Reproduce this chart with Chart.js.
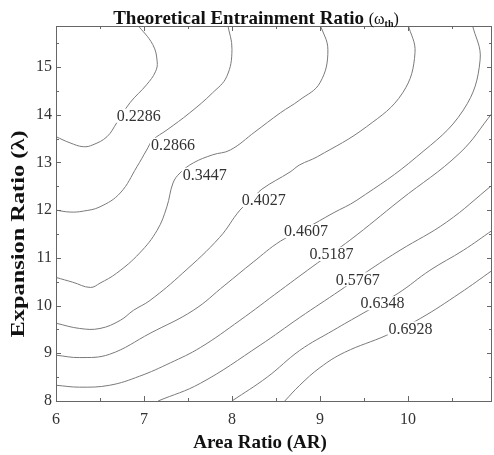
<!DOCTYPE html>
<html lang="en">
<head>
<meta charset="UTF-8">
<title>Theoretical Entrainment Ratio</title>
<script src="https://cdn.jsdelivr.net/npm/chart.js"></script>
<style>
  html, body { margin: 0; padding: 0; background: #fff; }
</style>
</head>
<body>
<canvas id="contourChart" width="494" height="455"></canvas>

<script>
// contour levels of the entrainment ratio
const levels = [0.2286, 0.2866, 0.3447, 0.4027, 0.4607, 0.5187, 0.5767, 0.6348, 0.6928];

// each contour as [area ratio, expansion ratio] pairs
const c2286 = [[6.00,13.54],[6.16,13.41],[6.31,13.33],[6.42,13.37],[6.58,13.54],[6.69,13.83],
               [6.84,14.25],[7.03,14.63],[7.13,14.90],[7.15,15.11],[7.10,15.47],[6.92,15.90]];
const c2866 = [[6.00,12.00],[6.16,11.96],[6.31,11.98],[6.50,12.07],[6.73,12.36],[6.92,12.91],
               [7.03,13.26],[7.10,13.47],[7.26,13.68],[7.52,14.04],[7.78,14.46],[7.94,14.80],
               [8.00,15.37],[7.95,15.90]];
const c3447 = [[6.00,10.59],[6.19,10.49],[6.39,10.38],[6.50,10.47],[6.69,10.68],[6.95,11.10],
               [7.15,11.58],[7.26,12.07],[7.33,12.57],[7.41,12.78],[7.56,12.99],[7.78,13.16],
               [7.98,13.26],[8.26,13.64],[8.55,14.04],[8.77,14.31],[9.00,14.67],[9.09,15.36],
               [9.00,15.90]];
const c4027 = [[6.00,9.63],[6.27,9.52],[6.50,9.52],[6.73,9.69],[6.88,9.90],[7.07,10.11],
               [7.44,10.68],[7.86,11.43],[8.09,12.00],[8.23,12.23],[8.34,12.44],[8.66,12.80],
               [8.77,12.95],[8.97,13.12],[9.53,13.75],[9.94,14.46],[10.08,15.30],[10.00,15.90]];
const c4607 = [[6.00,8.96],[6.27,8.91],[6.61,8.98],[7.07,9.42],[7.56,9.90],[7.92,10.43],
               [8.24,10.91],[8.55,11.35],[8.84,11.62],[9.15,11.94],[9.42,12.21],[10.10,13.12],
               [10.63,14.10],[10.82,15.15],[10.73,15.90]];
const c5187 = [[6.00,8.33],[6.27,8.29],[6.61,8.33],[6.95,8.52],[7.30,8.80],[7.64,9.12],
               [8.09,9.69],[8.55,10.32],[8.97,10.89],[9.34,11.37],[9.91,12.21],[10.59,13.20],
               [10.96,14.04]];
const c5767 = [[7.16,8.00],[7.64,8.37],[8.32,9.17],[8.77,9.75],[9.23,10.32],[9.59,10.78],
               [9.91,11.16],[10.44,11.75],[10.96,12.53]];
const c6348 = [[8.00,8.00],[8.40,8.50],[8.77,9.06],[9.15,9.48],[9.49,9.84],[9.89,10.26],
               [10.25,10.74],[10.63,11.16],[10.96,11.58]];
const c6928 = [[8.60,8.00],[8.77,8.33],[9.00,8.70],[9.28,9.02],[9.76,9.38],[10.14,9.73],
               [10.59,10.26],[10.96,10.74]];

const contours = [c2286, c2866, c3447, c4027, c4607, c5187, c5767, c6348, c6928];

// where each level's value is written, in (area ratio, expansion ratio)
const labelSpots = [[6.94,13.98],[7.33,13.37],[7.69,12.74],[8.36,12.21],[8.84,11.56],
                    [9.13,11.08],[9.43,10.55],[9.71,10.05],[10.03,9.52]];

const xTicks = [6, 7, 8, 9, 10];
const yTicks = [8, 9, 10, 11, 12, 13, 14, 15];
const xRange = [6, 10.955];
const yRange = [8, 15.86];

const serif = '"Liberation Serif", "DejaVu Serif", serif';

// frame, inward ticks, contour labels and the titles
const framePlugin = {
    id: 'framePlugin',
    afterDraw(chart) {
        const ctx = chart.ctx;
        const a = chart.chartArea;
        const xs = chart.scales.x;
        const ys = chart.scales.y;

        // contour value labels on white patches
        ctx.save();
        ctx.font = '16px ' + serif;
        ctx.textAlign = 'center';
        ctx.textBaseline = 'middle';
        levels.forEach((lv, i) => {
            const px = xs.getPixelForValue(labelSpots[i][0]);
            const py = ys.getPixelForValue(labelSpots[i][1]);
            const txt = lv.toFixed(4);
            const w = ctx.measureText(txt).width;
            ctx.fillStyle = '#fff';
            ctx.fillRect(px - w / 2 - 1, py - 7, w + 2, 14);
            ctx.fillStyle = '#333';
            ctx.fillText(txt, px, py + 1);
        });
        ctx.restore();

        // frame
        ctx.save();
        ctx.strokeStyle = '#666';
        ctx.lineWidth = 1;
        ctx.strokeRect(Math.round(a.left) + 0.5, Math.round(a.top) + 0.5,
                       Math.round(a.right - a.left) - 1, Math.round(a.bottom - a.top));

        // ticks pointing into the plot on all four sides
        ctx.beginPath();
        for (let v = xRange[0]; v <= xRange[1]; v += 0.5) {
            const px = Math.round(xs.getPixelForValue(v)) + 0.5;
            const len = Number.isInteger(v) ? 5 : 3;
            ctx.moveTo(px, a.bottom); ctx.lineTo(px, a.bottom - len);
            ctx.moveTo(px, a.top); ctx.lineTo(px, a.top + len);
        }
        for (let v = yRange[0]; v <= yRange[1]; v += 0.5) {
            const py = Math.round(ys.getPixelForValue(v)) + 0.5;
            const len = Number.isInteger(v) ? 5 : 3;
            ctx.moveTo(a.left, py); ctx.lineTo(a.left + len, py);
            ctx.moveTo(a.right, py); ctx.lineTo(a.right - len, py);
        }
        ctx.stroke();

        // tick labels
        ctx.fillStyle = '#333';
        ctx.font = '16px ' + serif;
        ctx.textAlign = 'center';
        ctx.textBaseline = 'alphabetic';
        xTicks.forEach(v => ctx.fillText(String(v), xs.getPixelForValue(v), a.bottom + 23));
        ctx.textAlign = 'right';
        ctx.textBaseline = 'middle';
        yTicks.forEach(v => ctx.fillText(String(v), a.left - 4, ys.getPixelForValue(v)));

        // axis titles
        ctx.fillStyle = '#111';
        ctx.font = 'bold 19px ' + serif;
        ctx.textAlign = 'center';
        ctx.textBaseline = 'alphabetic';
        ctx.fillText('Area Ratio (AR)', 260, 448);

        // the vertical title runs long, so it is stretched along its length
        const yTitle = 'Expansion Ratio (\u03bb)';
        const stretch = 207 / ctx.measureText(yTitle).width;
        ctx.save();
        ctx.translate(24, 234);
        ctx.rotate(-Math.PI / 2);
        ctx.scale(stretch, 1);
        ctx.fillText(yTitle, 0, 0);
        ctx.restore();

        // plot title with the omega symbol set lighter
        const main = 'Theoretical Entrainment Ratio ';
        ctx.font = 'bold 19px ' + serif;
        const wMain = ctx.measureText(main).width;
        ctx.font = '16px ' + serif;
        const wOpen = ctx.measureText('(\u03c9').width;
        ctx.font = 'bold 10px ' + serif;
        const wSub = ctx.measureText('th').width;
        ctx.font = '16px ' + serif;
        const wClose = ctx.measureText(')').width;
        let tx = 256 - (wMain + wOpen + wSub + wClose) / 2;
        const ty = 24;
        ctx.textAlign = 'left';
        ctx.font = 'bold 19px ' + serif;
        ctx.fillText(main, tx, ty); tx += wMain;
        ctx.font = '16px ' + serif;
        ctx.fillText('(\u03c9', tx, ty); tx += wOpen;
        ctx.font = 'bold 10px ' + serif;
        ctx.fillText('th', tx, ty + 3); tx += wSub;
        ctx.font = '16px ' + serif;
        ctx.fillText(')', tx, ty);
        ctx.restore();
    }
};

const datasets = contours.map((pts, i) => ({
    label: String(levels[i]),
    data: pts.map(p => ({ x: p[0], y: p[1] })),
    showLine: true,
    borderColor: '#7a7a7a',
    borderWidth: 1,
    pointRadius: 0,
    tension: 0.4,
    fill: false
}));

new Chart(document.getElementById('contourChart'), {
    type: 'scatter',
    data: { datasets: datasets },
    options: {
        responsive: false,
        animation: false,
        devicePixelRatio: 1,
        layout: { padding: { left: 56, top: 26, right: 2, bottom: 54 } },
        plugins: {
            legend: { display: false },
            tooltip: { enabled: false }
        },
        scales: {
            x: { type: 'linear', min: xRange[0], max: xRange[1], display: false },
            y: { type: 'linear', min: yRange[0], max: yRange[1], display: false }
        }
    },
    plugins: [framePlugin]
});
</script>
</body>
</html>
